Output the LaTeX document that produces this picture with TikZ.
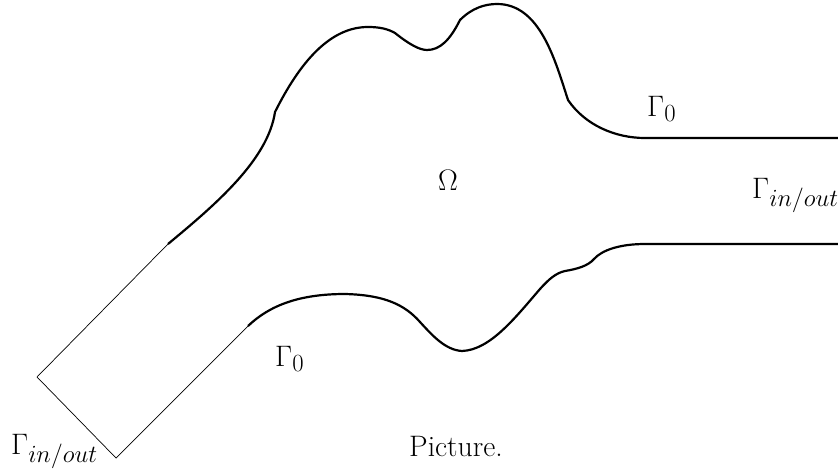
\documentclass[tikz,border=0pt]{standalone}
\usepackage{graphicx}
\usepackage{tikz}
\usetikzlibrary{positioning}

\newcommand{\biglbl}[1]{\scalebox{1.19}{#1}}

\begin{document}
\begin{tikzpicture}[
  x=1pt, y=-1pt,
  wall/.style={line width=2.2pt, line join=round},
  open/.style={line width=0.7pt},
  lbl/.style={anchor=base west, inner sep=0pt, font=\Huge}
]
  \useasboundingbox (0,0) rectangle (838,471);

  % corners of the channel
  \coordinate (A) at (168,244);
  \coordinate (B) at (37,377);
  \coordinate (C) at (116,458);
  \coordinate (D) at (248,326);
  \coordinate (E) at (645,138);
  \coordinate (F) at (838,138);
  \coordinate (G) at (838,244);
  \coordinate (H) at (645,244);

  % open boundary
  \draw[open] (A) -- (B) -- (C) -- (D);

  % upper wall
  \draw[wall] (A) .. controls (215,205) and (268,160) .. (275,112)
    .. controls (300,62) and (330,27) .. (368,27)
    .. controls (380,27) and (388,29) .. (395,33)
    .. controls (410,45) and (420,50) .. (427,50)
    .. controls (440,50) and (450,40) .. (460,20)
    .. controls (472,8) and (485,4) .. (497,4)
    .. controls (540,4) and (555,60) .. (568,100)
    .. controls (585,125) and (615,138) .. (E) -- (F);

  % lower wall
  \draw[wall] (G) -- (H)
    .. controls (620,244) and (602,250) .. (594,259)
    .. controls (588,266) and (577,269) .. (565,271)
    .. controls (556,273) and (549,279) .. (540,289)
    .. controls (515,318) and (490,350) .. (462,351)
    .. controls (445,350) and (432,335) .. (420,322)
    .. controls (405,305) and (385,295) .. (345,294)
    .. controls (300,294) and (270,305) .. (D);

  % labels
  \node[lbl, anchor=center] (omega) at (448,180) {\biglbl{$\Omega$}};
  \node[lbl] (g0top) at (647,116) {\biglbl{$\Gamma_0$}};
  \node[lbl] (gright) at (752,198) {\biglbl{$\Gamma_{in/out}$}};
  \node[lbl] (g0bot) at (275,366) {\biglbl{$\Gamma_0$}};
  \node[lbl] (gleft) at (11,454) {\biglbl{$\Gamma_{in/out}$}};
  \node[lbl] (cap) at (409,456) {\biglbl{Picture.}};
\end{tikzpicture}
\end{document}
